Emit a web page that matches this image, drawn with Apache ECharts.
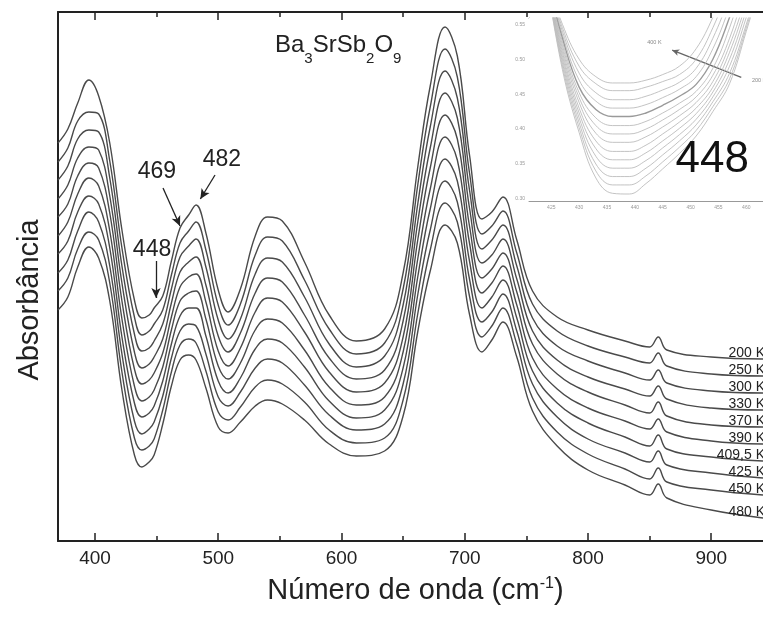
<!DOCTYPE html>
<html>
<head>
<meta charset="utf-8">
<script src="https://cdn.jsdelivr.net/npm/echarts@6/dist/echarts.min.js"></script>
<style>
  html, body { margin: 0; padding: 0; background: #fff; }
  #chart { width: 763px; height: 617px; }
</style>
</head>
<body>
<div id="chart"></div>
<script>
// Infrared spectra of Ba3SrSb2O9 at several temperatures (stacked, arbitrary units)
const wavenumbers = [370, 378, 386, 395, 403, 412, 422, 432, 438, 444, 448, 455, 462, 469, 476, 482, 490, 500, 508, 518, 530, 540, 552, 570, 590, 612, 635, 650, 662, 672, 684, 694, 704, 714, 722, 731, 742, 755, 775, 800, 830, 850, 857, 864, 900, 942];
const temperatures = ['200 K', '250 K', '300 K', '330 K', '370 K', '390 K', '409,5 K', '425 K', '450 K', '480 K'];

const abs200 = [398, 412, 438, 461, 445, 398, 310, 241, 223, 226, 233, 245, 280, 313, 326, 336, 308, 251, 229, 252, 305, 324, 320, 279, 226, 200, 212, 268, 375, 455, 514, 485, 385, 322, 329, 344, 302, 250, 224, 211, 200, 194, 204, 191, 184, 182];
const abs250 = [379, 393, 420, 429, 427, 380, 292, 224, 206, 210, 217, 231, 266, 298, 310, 319, 291, 236, 216, 237, 286, 304, 300, 261, 212, 187, 198, 252, 357, 434, 492, 464, 367, 307, 315, 330, 289, 237, 210, 195, 184, 178, 188, 175, 167, 165];
const abs300 = [361, 375, 402, 411, 409, 363, 274, 207, 190, 193, 200, 217, 252, 284, 295, 302, 274, 221, 202, 222, 267, 283, 279, 244, 197, 174, 185, 236, 338, 414, 470, 443, 350, 292, 301, 316, 276, 223, 195, 180, 168, 161, 171, 158, 150, 148];
const abs330 = [342, 356, 383, 394, 391, 345, 257, 189, 173, 177, 184, 202, 238, 269, 279, 284, 256, 205, 189, 208, 248, 263, 259, 226, 183, 162, 171, 220, 320, 393, 448, 423, 332, 278, 286, 302, 263, 210, 181, 164, 152, 145, 155, 142, 133, 131];
const abs370 = [324, 337, 365, 378, 373, 328, 239, 172, 157, 161, 168, 188, 224, 254, 264, 267, 239, 190, 175, 193, 229, 243, 239, 209, 169, 149, 158, 204, 302, 373, 426, 402, 314, 263, 272, 288, 250, 197, 167, 149, 136, 128, 139, 125, 116, 114];
const abs390 = [305, 319, 347, 363, 355, 310, 221, 155, 140, 144, 151, 174, 211, 240, 248, 250, 222, 175, 162, 178, 211, 222, 218, 191, 154, 136, 144, 189, 283, 352, 404, 381, 297, 248, 258, 275, 237, 183, 152, 133, 120, 112, 122, 109, 100, 97];
const abs409 = [287, 300, 329, 345, 337, 293, 203, 138, 124, 128, 135, 160, 197, 225, 233, 233, 205, 160, 148, 163, 192, 202, 198, 174, 140, 123, 131, 173, 265, 332, 382, 360, 279, 233, 244, 261, 224, 170, 138, 118, 104, 95, 106, 92, 84, 80];
const abs425 = [268, 281, 310, 329, 319, 275, 186, 120, 107, 112, 119, 145, 183, 210, 217, 215, 187, 144, 135, 149, 173, 182, 178, 156, 126, 111, 117, 157, 247, 311, 360, 339, 261, 219, 229, 247, 211, 157, 124, 102, 88, 79, 90, 76, 68, 63];
const abs450 = [250, 263, 292, 309, 301, 258, 168, 103, 91, 95, 102, 131, 169, 196, 202, 198, 170, 129, 121, 134, 154, 161, 157, 139, 111, 98, 103, 141, 228, 291, 338, 319, 244, 204, 215, 233, 198, 143, 109, 87, 72, 62, 73, 59, 51, 46];
const abs480 = [231, 244, 274, 294, 283, 240, 150, 86, 74, 79, 86, 117, 155, 181, 186, 181, 153, 114, 108, 119, 135, 141, 137, 121, 97, 85, 90, 125, 210, 270, 316, 298, 226, 189, 201, 219, 185, 130, 95, 71, 56, 46, 57, 43, 31, 23];
const mainCurves = [abs200, abs250, abs300, abs330, abs370, abs390, abs409, abs425, abs450, abs480];

const xMajorTicks = [400, 500, 600, 700, 800, 900];
const xMinorTicks = [450, 550, 650, 750, 850];

// Detail of the 448 cm-1 region (inset)
const insetWavenumbers = [424, 427, 430, 433, 436, 439, 442, 445, 448, 451, 454, 457, 460, 463];
const insetCurves = [
  [0.62, 0.550, 0.500, 0.475, 0.466, 0.466, 0.470, 0.478, 0.490, 0.515, 0.560, 0.620, 0.680, 0.740],
  [0.62, 0.545, 0.490, 0.465, 0.455, 0.455, 0.460, 0.468, 0.478, 0.500, 0.545, 0.605, 0.670, 0.730],
  [0.62, 0.540, 0.480, 0.452, 0.442, 0.442, 0.447, 0.456, 0.467, 0.487, 0.530, 0.590, 0.660, 0.720],
  [0.62, 0.535, 0.470, 0.440, 0.430, 0.430, 0.435, 0.445, 0.457, 0.475, 0.515, 0.575, 0.645, 0.710],
  [0.62, 0.530, 0.460, 0.428, 0.418, 0.418, 0.423, 0.434, 0.447, 0.464, 0.500, 0.560, 0.630, 0.700],
  [0.62, 0.525, 0.452, 0.416, 0.405, 0.405, 0.411, 0.423, 0.437, 0.454, 0.487, 0.545, 0.620, 0.690],
  [0.62, 0.520, 0.445, 0.405, 0.393, 0.393, 0.400, 0.413, 0.428, 0.446, 0.477, 0.530, 0.605, 0.680],
  [0.62, 0.515, 0.438, 0.394, 0.381, 0.381, 0.389, 0.403, 0.419, 0.438, 0.468, 0.520, 0.590, 0.670],
  [0.62, 0.510, 0.430, 0.383, 0.368, 0.368, 0.377, 0.393, 0.410, 0.430, 0.460, 0.510, 0.580, 0.660],
  [0.62, 0.505, 0.423, 0.372, 0.356, 0.356, 0.366, 0.383, 0.401, 0.422, 0.453, 0.500, 0.570, 0.650],
  [0.62, 0.500, 0.416, 0.361, 0.344, 0.344, 0.355, 0.373, 0.392, 0.414, 0.446, 0.490, 0.560, 0.640],
  [0.62, 0.495, 0.409, 0.350, 0.332, 0.332, 0.344, 0.363, 0.383, 0.406, 0.439, 0.480, 0.550, 0.630],
  [0.62, 0.490, 0.402, 0.340, 0.320, 0.320, 0.333, 0.353, 0.374, 0.398, 0.432, 0.472, 0.545, 0.625],
  [0.62, 0.485, 0.395, 0.330, 0.308, 0.307, 0.322, 0.343, 0.365, 0.390, 0.425, 0.465, 0.540, 0.620]
];
const insetXTicks = [425, 430, 435, 440, 445, 450, 455, 460];
const insetYTicks = [0.30, 0.35, 0.40, 0.45, 0.50, 0.55];

const FONT = '"Liberation Sans", Arial, Helvetica, sans-serif';
const INK = '#222';

const chart = echarts.init(document.getElementById('chart'), null, { renderer: 'canvas' });

const series = [];
mainCurves.forEach((curve, i) => {
  series.push({
    name: temperatures[i],
    type: 'line',
    xAxisIndex: 0,
    yAxisIndex: 0,
    data: wavenumbers.map((w, j) => [w, curve[j]]),
    showSymbol: false,
    smooth: 0.4,
    lineStyle: { color: '#4a4a4a', width: 1.4 },
    z: 3
  });
});

// arrows pointing at the bands on the 200 K spectrum
series[0].markLine = {
  silent: true,
  symbol: ['none', 'arrow'],
  symbolSize: [7, 10],
  label: { show: false },
  lineStyle: { color: INK, width: 1.3, type: 'solid' },
  data: [
    [{ coord: [449.5, 280] }, { coord: [449.5, 243] }],
    [{ coord: [455.2, 353] }, { coord: [469, 315] }],
    [{ coord: [497.4, 366] }, { coord: [485.5, 342] }]
  ]
};

insetCurves.forEach((curve, k) => {
  series.push({
    type: 'line',
    xAxisIndex: 4,
    yAxisIndex: 1,
    data: insetWavenumbers.map((w, j) => [w, curve[j]]),
    showSymbol: false,
    smooth: 0.4,
    clip: true,
    lineStyle: { color: k === 4 ? '#9a9a9a' : '#bcbcbc', width: k === 4 ? 1.4 : 0.9 },
    z: 6
  });
});

series[mainCurves.length].markLine = {
  silent: true,
  symbol: ['none', 'arrow'],
  symbolSize: [5, 7],
  label: { show: false },
  lineStyle: { color: '#666', width: 1.3, type: 'solid' },
  data: [[{ coord: [459.1, 0.474] }, { coord: [446.7, 0.513] }]]
};

const tickBase = { show: true, inside: true, lineStyle: { color: INK, width: 1.5 } };

const option = {
  animation: false,
  backgroundColor: '#fff',
  grid: [
    { left: 58, top: 12, right: 0, bottom: 76 },
    { left: 529, top: 18, right: 0, bottom: 416, show: true, backgroundColor: '#fff', borderWidth: 0, z: 4 }
  ],
  xAxis: [
    {
      gridIndex: 0, type: 'value', min: 370, max: 942, position: 'bottom',
      axisLine: { show: true, onZero: false, lineStyle: { color: INK, width: 2 } },
      axisTick: Object.assign({}, tickBase, { length: 8, customValues: xMajorTicks }),
      axisLabel: { customValues: xMajorTicks, fontSize: 19, fontFamily: FONT, color: INK, margin: 8 },
      splitLine: { show: false },
      name: '{a|Número de onda (cm}{s|-1}{a|)}',
      nameLocation: 'middle', nameGap: 35,
      nameTextStyle: {
        padding: [0, 0, 0, 10],
        rich: {
          a: { fontSize: 29, fontFamily: FONT, color: INK },
          s: { fontSize: 16, fontFamily: FONT, color: INK, verticalAlign: 'top' }
        }
      }
    },
    {
      gridIndex: 0, type: 'value', min: 370, max: 942, position: 'bottom',
      axisLine: { show: false, onZero: false },
      axisTick: Object.assign({}, tickBase, { length: 5, customValues: xMinorTicks }),
      axisLabel: { show: false }, splitLine: { show: false }
    },
    {
      gridIndex: 0, type: 'value', min: 370, max: 942, position: 'top',
      axisLine: { show: true, onZero: false, lineStyle: { color: INK, width: 2 } },
      axisTick: Object.assign({}, tickBase, { length: 8, customValues: xMajorTicks }),
      axisLabel: { show: false }, splitLine: { show: false }
    },
    {
      gridIndex: 0, type: 'value', min: 370, max: 942, position: 'top',
      axisLine: { show: false, onZero: false },
      axisTick: Object.assign({}, tickBase, { length: 5, customValues: xMinorTicks }),
      axisLabel: { show: false }, splitLine: { show: false }
    },
    {
      gridIndex: 1, type: 'value', min: 421, max: 463, position: 'bottom',
      axisLine: { show: true, onZero: false, lineStyle: { color: '#999', width: 1 } },
      axisTick: { show: true, inside: true, length: 3, customValues: insetXTicks, lineStyle: { color: '#999' } },
      axisLabel: { customValues: insetXTicks, fontSize: 5, fontFamily: FONT, color: '#999', margin: 4 },
      splitLine: { show: false }
    },
    {
      gridIndex: 1, type: 'value', min: 421, max: 463, position: 'top',
      axisLine: { show: true, onZero: false, lineStyle: { color: '#aaa', width: 1 } },
      axisTick: { show: true, inside: true, length: 2, customValues: insetXTicks, lineStyle: { color: '#aaa' } },
      axisLabel: { show: false }, splitLine: { show: false }
    }
  ],
  yAxis: [
    {
      gridIndex: 0, type: 'value', min: 0, max: 529,
      axisLine: { show: true, onZero: false, lineStyle: { color: INK, width: 2 } },
      axisTick: { show: false }, axisLabel: { show: false }, splitLine: { show: false }
    },
    {
      gridIndex: 1, type: 'value', min: 0.297, max: 0.559,
      axisLine: { show: true, onZero: false, lineStyle: { color: '#999', width: 1 } },
      axisTick: { show: true, inside: true, length: 3, customValues: insetYTicks, lineStyle: { color: '#999' } },
      axisLabel: { customValues: insetYTicks, fontSize: 5, fontFamily: FONT, color: '#999', margin: 4,
                   formatter: v => v.toFixed(2) },
      splitLine: { show: false }
    }
  ],
  series: series
};

chart.setOption(option);

// text annotations anchored to data coordinates
const bandNotes = [
  { text: '448', at: [446.3, 291] },
  { text: '469', at: [450.3, 369] },
  { text: '482', at: [503, 381] }
];
const insetNotes = [
  { text: '400 K', at: [443.5, 0.524], size: 5.5, color: '#888' },
  { text: '200 K', at: [462.3, 0.470], size: 5.5, color: '#888' },
  { text: '448', at: [453.9, 0.356], size: 44, color: '#111' }
];

function annotate() {
  const g = [];
  const last = wavenumbers.length - 1;
  mainCurves.forEach((curve, i) => {
    const p = chart.convertToPixel({ seriesIndex: i }, [wavenumbers[last], curve[last]]);
    g.push({
      type: 'text', x: 765, y: p[1] - 6, z: 10,
      style: { text: temperatures[i], fontSize: 14, fontFamily: FONT, fill: INK, align: 'right', verticalAlign: 'middle' }
    });
  });
  bandNotes.forEach(n => {
    const p = chart.convertToPixel({ seriesIndex: 0 }, n.at);
    g.push({
      type: 'text', x: p[0], y: p[1], z: 10,
      style: { text: n.text, fontSize: 23, fontFamily: FONT, fill: INK, align: 'center', verticalAlign: 'middle' }
    });
  });
  insetNotes.forEach(n => {
    const p = chart.convertToPixel({ seriesIndex: mainCurves.length }, n.at);
    g.push({
      type: 'text', x: p[0], y: p[1], z: 10,
      style: { text: n.text, fontSize: n.size, fontFamily: FONT, fill: n.color, align: 'center', verticalAlign: 'middle' }
    });
  });
  // y-axis title
  g.push({
    type: 'text', x: 30, y: 300, rotation: Math.PI / 2, z: 10,
    style: { text: 'Absorbância', fontSize: 29, fontFamily: FONT, fill: INK, align: 'center', verticalAlign: 'middle' }
  });
  // compound formula
  g.push({
    type: 'text', x: 275, y: 33, z: 10,
    style: {
      text: '{b|Ba}{s|3}{b|SrSb}{s|2}{b|O}{s|9}',
      fontFamily: FONT, fill: INK, verticalAlign: 'top',
      rich: {
        b: { fontSize: 24, fontFamily: FONT, fill: INK, padding: [0, 0, 9, 0] },
        s: { fontSize: 15, fontFamily: FONT, fill: INK, verticalAlign: 'bottom' }
      }
    }
  });
  chart.setOption({ graphic: g });
}
annotate();
</script>
</body>
</html>
